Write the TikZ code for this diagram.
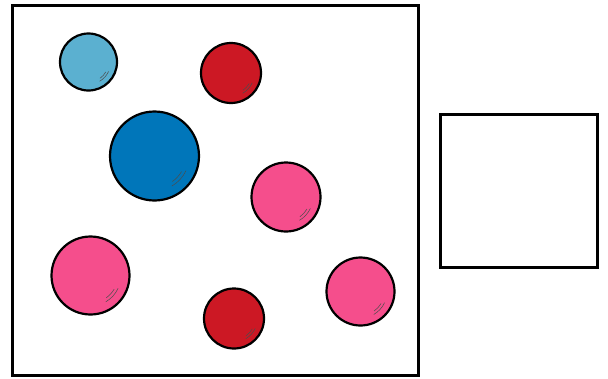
\documentclass[tikz,border=0pt]{standalone}
\usepackage{tikz}
\tikzset{
  box/.style={draw,line width=3pt,inner sep=0pt},
  ball/.style={circle,draw,line width=2.2pt,inner sep=0pt},
  lblue/.style={fill={rgb,255:red,91;green,176;blue,208}},
  dblue/.style={fill={rgb,255:red,0;green,118;blue,186}},
  redb/.style={fill={rgb,255:red,204;green,24;blue,36}},
  pinkb/.style={fill={rgb,255:red,245;green,78;blue,140}},
  gloss/.style={line width=0.5pt,draw=black!70}
}

\begin{document}
\begin{tikzpicture}[x=1pt,y=-1pt]
\useasboundingbox (0,0) rectangle (608,378);
\node[box,minimum width=406pt,minimum height=370pt] (cup) at (215,190) {};
\node[box,minimum width=157pt,minimum height=153pt] (empty) at (519,190.5) {};
\node[ball,lblue,minimum size=57pt] (b1) at (88.5,62) {};
\node[ball,redb,minimum size=60pt] (b2) at (231,73) {};
\node[ball,dblue,minimum size=89pt] (b3) at (154.5,156) {};
\node[ball,pinkb,minimum size=69pt] (b4) at (286,197) {};
\node[ball,pinkb,minimum size=78pt] (b5) at (90.5,275.5) {};
\node[ball,redb,minimum size=60pt] (b6) at (234,318.5) {};
\node[ball,pinkb,minimum size=68pt] (b7) at (360.5,291.5) {};
% little shine marks, lower right
\foreach \b/\r in {b1/28.5,b2/30,b3/44.5,b4/34.5,b5/39,b6/30,b7/34}{
  \draw[gloss] ([shift={(25:0.78*\r)}]\b.center) arc (25:60:0.78*\r);
  \draw[gloss] ([shift={(30:0.70*\r)}]\b.center) arc (30:55:0.70*\r);
}
\end{tikzpicture}
\end{document}
